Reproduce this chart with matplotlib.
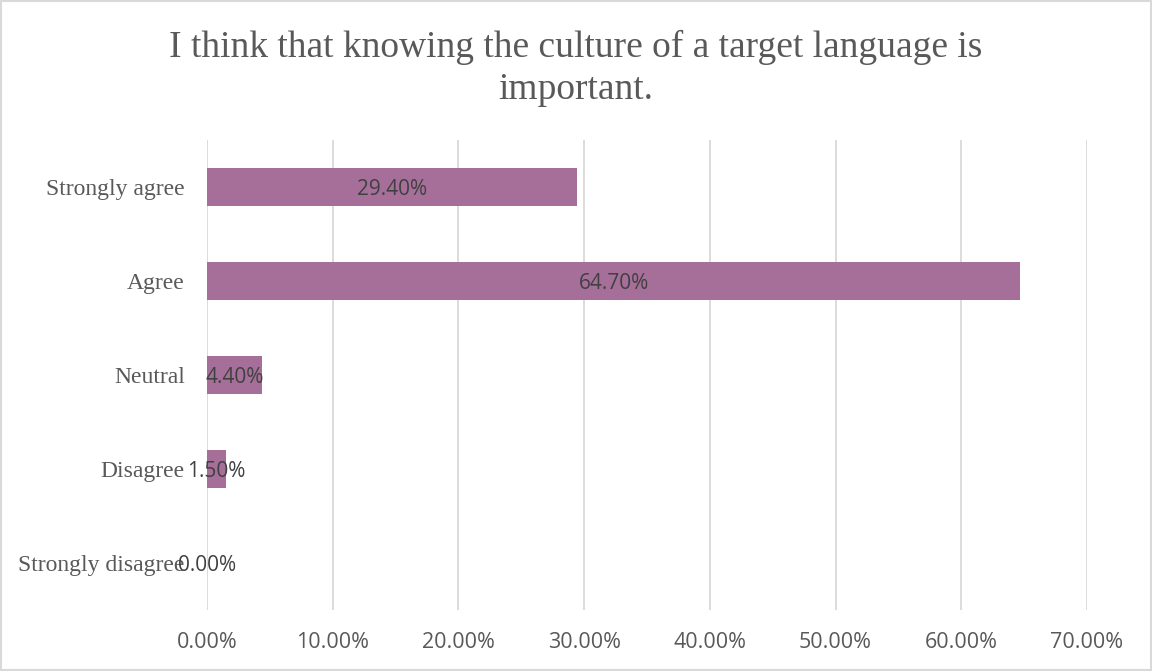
import matplotlib.pyplot as plt
from matplotlib.patches import Rectangle

# Survey responses (share of respondents, %)
categories = ["Strongly agree", "Agree", "Neutral", "Disagree", "Strongly disagree"]
values = [29.40, 64.70, 4.40, 1.50, 0.00]
xticks = [0, 10, 20, 30, 40, 50, 60, 70]

title = "I think that knowing the culture of a target language is\nimportant."

fig = plt.figure(figsize=(11.52, 6.71), dpi=100)
ax = fig.add_axes([0.1797, 0.0909, 0.7639, 0.7005])

ypos = list(range(len(categories)))[::-1]
bars = ax.barh(ypos, values, height=0.4, color="#a66f99", zorder=3)

# data labels centred on each bar
for y, v in zip(ypos, values):
    ax.text(v / 2, y, f"{v:.2f}%", ha="center", va="center_baseline",
            fontsize=15, family="Open Sans", color="#404040", zorder=4)

ax.set_xlim(0, 70)
ax.set_ylim(-0.5, 4.5)
ax.set_xticks(xticks)
ax.set_xticklabels([f"{t:.2f}%" for t in xticks], family="Open Sans",
                   fontsize=15.5, color="#595959")
ax.set_yticks(ypos)
ax.set_yticklabels(categories, family="Liberation Serif", fontsize=17, color="#595959")
ax.tick_params(axis="both", length=0)
ax.tick_params(axis="y", pad=16)
ax.tick_params(axis="x", pad=16)
ax.grid(axis="x", color="#d9d9d9", linewidth=1.3, zorder=0)
for s in ax.spines.values():
    s.set_visible(False)

fig.text(0.5, 0.898, title, ha="center", va="center", fontsize=27,
         family="Liberation Serif", color="#595959", linespacing=1.3)

# outer chart border
fig.patches.append(Rectangle((0.001, 0.001), 0.998, 0.998, transform=fig.transFigure,
                             fill=False, edgecolor="#d9d9d9", linewidth=1.5))

fig.savefig("out.png", dpi=100)
